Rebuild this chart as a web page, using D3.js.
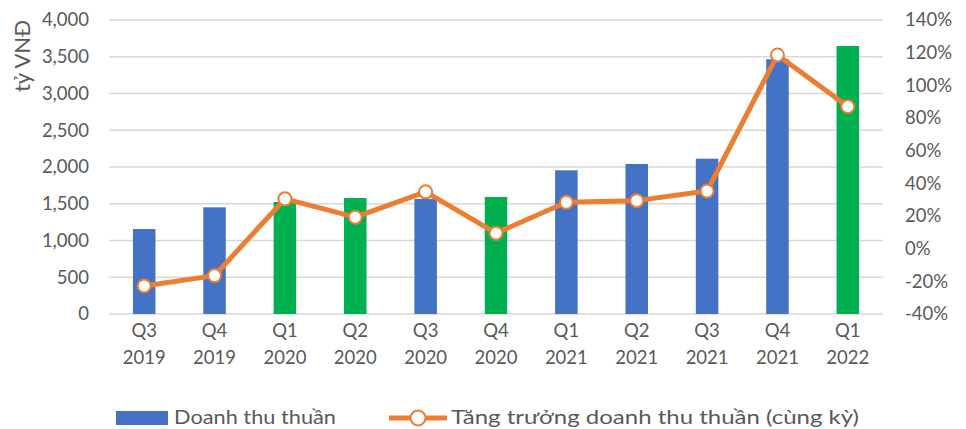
<!DOCTYPE html>
<html><head><meta charset="utf-8">
<script src="https://cdn.jsdelivr.net/npm/d3@7"></script>
<style>body{margin:0;background:#fff}svg{display:block}</style>
</head><body>
<script>
const quarters = ["Q3","Q4","Q1","Q2","Q3","Q4","Q1","Q2","Q3","Q4","Q1"];
const years = ["2019","2019","2020","2020","2020","2020","2021","2021","2021","2021","2022"];
const revenue = [1156, 1451, 1524, 1578, 1565, 1592, 1955, 2041, 2113, 3465, 3646];
const barColors = ["#4472C4","#4472C4","#00B050","#00B050","#4472C4","#00B050","#4472C4","#4472C4","#4472C4","#4472C4","#00B050"];
const growth = [-22.8, -16.5, 30.5, 19.3, 34.8, 9.5, 28.4, 29.4, 35.3, 118.6, 87.0];
const leftTicks = [0,500,1000,1500,2000,2500,3000,3500,4000];
const rightTicks = [-40,-20,0,20,40,60,80,100,120,140];
const legendLabels = ["Doanh thu thuần","Tăng trưởng doanh thu thuần (cùng kỳ)"];

const W=966,H=429;
const font = "Lato,'Open Sans',sans-serif";
const txt = "#595959";
const svg = d3.select("body").append("svg").attr("width",W).attr("height",H);
const x0=109,x1=883,yTop=20,yBot=314;
const cats = quarters.map((q,i)=>i);
const x = d3.scaleBand().domain(cats).range([x0,x1]).paddingInner(0.68).paddingOuter(0.34);
const yL = d3.scaleLinear().domain([0,4000]).range([yBot,yTop]);
const yR = d3.scaleLinear().domain([-40,140]).range([yBot,yTop]);

// gridlines
svg.append("g").selectAll("line").data(leftTicks).join("line")
  .attr("x1",x0).attr("x2",x1).attr("y1",d=>yL(d)).attr("y2",d=>yL(d))
  .attr("stroke","#D9D9D9").attr("stroke-width",1.5);

// left axis
const la = svg.append("g").attr("transform",`translate(${x0-8},0)`)
  .call(d3.axisLeft(yL).tickValues(leftTicks).tickFormat(d3.format(",")).tickSize(0).tickPadding(12));
la.select(".domain").remove();
la.selectAll("text").attr("font-family",font).attr("font-size",18.5).attr("fill",txt);

// right axis
const ra = svg.append("g").attr("transform",`translate(${x1+8},0)`)
  .call(d3.axisRight(yR).tickValues(rightTicks).tickFormat(d=>d+"%").tickSize(0).tickPadding(14));
ra.select(".domain").remove();
ra.selectAll("text").attr("font-family",font).attr("font-size",18.5).attr("fill",txt);

// y label
svg.append("text").attr("transform","translate(30,56) rotate(-90)")
  .attr("text-anchor","middle").attr("font-family",font).attr("font-size",22).attr("fill",txt).text("tỷ VNĐ");

// bars
svg.append("g").selectAll("rect").data(revenue).join("rect")
  .attr("x",(d,i)=>x(i)).attr("width",x.bandwidth())
  .attr("y",d=>yL(d)).attr("height",d=>yBot-yL(d))
  .attr("fill",(d,i)=>barColors[i]);

// x labels
const xl = svg.append("g");
quarters.forEach((q,i)=>{
  const cx = x(i)+x.bandwidth()/2;
  xl.append("text").attr("x",cx).attr("y",337).attr("text-anchor","middle")
    .attr("font-family",font).attr("font-size",18.5).attr("fill",txt).text(q);
  xl.append("text").attr("x",cx).attr("y",364).attr("text-anchor","middle")
    .attr("font-family",font).attr("font-size",18.5).attr("fill",txt).text(years[i]);
});

// line
const line = d3.line().x((d,i)=>x(i)+x.bandwidth()/2).y(d=>yR(d));
svg.append("path").datum(growth).attr("d",line).attr("fill","none")
  .attr("stroke","#ED7D31").attr("stroke-width",5).attr("stroke-linejoin","round");
svg.append("g").selectAll("circle").data(growth).join("circle")
  .attr("cx",(d,i)=>x(i)+x.bandwidth()/2).attr("cy",d=>yR(d)).attr("r",6.5)
  .attr("fill","#fff").attr("stroke","#ED7D31").attr("stroke-width",2);

// legend
const lg = svg.append("g");
lg.append("rect").attr("x",116).attr("y",411).attr("width",52).attr("height",14).attr("fill","#4472C4");
lg.append("text").attr("x",174).attr("y",424).attr("font-family",font).attr("font-size",20).attr("fill",txt)
  .attr("textLength",162).attr("lengthAdjust","spacingAndGlyphs").text(legendLabels[0]);
lg.append("line").attr("x1",389).attr("x2",447).attr("y1",418).attr("y2",418).attr("stroke","#ED7D31").attr("stroke-width",5);
lg.append("circle").attr("cx",418).attr("cy",418).attr("r",7.5).attr("fill","#fff").attr("stroke","#ED7D31").attr("stroke-width",2);
lg.append("text").attr("x",451).attr("y",424).attr("font-family",font).attr("font-size",20).attr("fill",txt)
  .attr("textLength",408).attr("lengthAdjust","spacingAndGlyphs").text(legendLabels[1]);
</script>
</body></html>
